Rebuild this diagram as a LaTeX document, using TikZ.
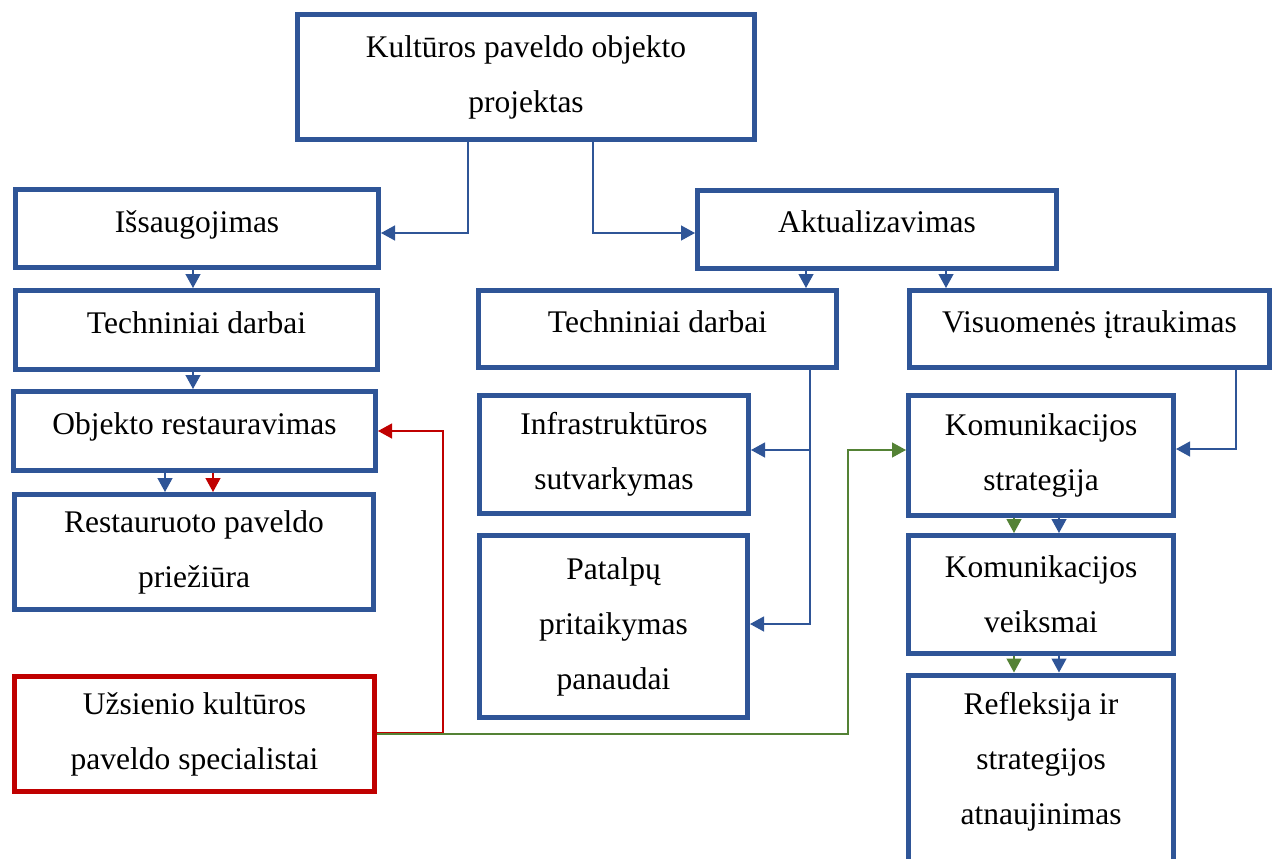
\documentclass[tikz,border=0pt]{standalone}
\usepackage{fontspec}
\setmainfont{Liberation Serif}
\usetikzlibrary{arrows.meta}
\definecolor{bblue}{RGB}{47,85,151}
\definecolor{rred}{RGB}{192,0,0}
\definecolor{ggreen}{RGB}{84,130,53}
\begin{document}
\begin{tikzpicture}[x=1pt,y=-1pt,
  box/.style={draw=bblue,line width=5pt,fill=white,inner sep=0pt,align=center,
    font=\fontsize{31.5}{55}\selectfont},
  redbox/.style={box,draw=rred},
  one/.style={text height=22pt,text depth=15pt},
  txt/.style={inner sep=0pt,align=center,font=\fontsize{31.5}{55}\selectfont},
  tip/.style={-{Triangle[length=14pt,width=15pt]}},
  conn/.style={draw=bblue,line width=1.3pt,tip},
  rconn/.style={draw=rred,line width=1.3pt,tip},
  gconn/.style={draw=ggreen,line width=1.3pt,tip}]
\useasboundingbox (0,0) rectangle (1277,859);
\clip (0,0) rectangle (1277,859);
% boxes
\node[box,minimum width=457pt,minimum height=125pt] (top) at (526,77) {Kultūros paveldo objekto\\projektas};
\node[box,one,minimum width=363pt,minimum height=78pt] (iss) at (197,228.5) {Išsaugojimas};
\node[box,one,minimum width=362pt,minimum height=79pt] (tech1) at (196.5,330) {Techniniai darbai};
\node[box,one,minimum width=362pt,minimum height=79pt] (obj) at (194.5,431) {Objekto restauravimas};
\node[box,minimum width=359pt,minimum height=115pt] (rest) at (194,552) {Restauruoto paveldo\\priežiūra};
\node[redbox,minimum width=360pt,minimum height=115pt] (usz) at (194.5,734) {Užsienio kultūros\\paveldo specialistai};
\node[box,one,minimum width=359pt,minimum height=78pt] (akt) at (877,229) {Aktualizavimas};
\node[box,one,minimum width=358pt,minimum height=77pt] (tech2) at (657.5,329) {Techniniai darbai};
\node[box,one,minimum width=360pt,minimum height=77pt] (vis) at (1089.5,329) {Visuomenės įtraukimas};
\node[box,minimum width=269pt,minimum height=118pt] (infra) at (614,454.5) {Infrastruktūros\\sutvarkymas};
\node[box,minimum width=268pt,minimum height=182pt] (pat) at (613.5,626.5) {Patalpų\\pritaikymas\\panaudai};
\node[box,minimum width=265pt,minimum height=120pt] (ks) at (1041,455.5) {Komunikacijos\\strategija};
\node[box,minimum width=265pt,minimum height=118pt] (kv) at (1041,594.5) {Komunikacijos\\veiksmai};
\node[box,minimum width=265pt,minimum height=225pt] (refl) at (1041,787.5) {};
\node[txt] (refltxt) at (1041,762) {Refleksija ir\\strategijos\\atnaujinimas};
% helper coordinates
\coordinate (c1) at (468,233);
\coordinate (c2) at (593,233);
\coordinate (a1) at (193,0);
\coordinate (b1) at (165,0);
\coordinate (b2) at (213,0);
\coordinate (d1) at (806,0);
\coordinate (d2) at (946,0);
\coordinate (v1) at (810,450);
\coordinate (v2) at (810,624);
\coordinate (w1) at (1236,449);
\coordinate (g1) at (848,450);
\coordinate (r1) at (443,431);
\coordinate (k1) at (1014,0);
\coordinate (k2) at (1059,0);
% connectors
\draw[conn] (top.south -| c1) |- (c1 -| iss.east);
\draw[conn] (top.south -| c2) |- (c2 -| akt.west);
\draw[conn] (iss.south -| a1) -- (tech1.north -| a1);
\draw[conn] (tech1.south -| a1) -- (obj.north -| a1);
\draw[conn] (obj.south -| b1) -- (rest.north -| b1);
\draw[rconn] (obj.south -| b2) -- (rest.north -| b2);
\draw[conn] (akt.south -| d1) -- (tech2.north -| d1);
\draw[conn] (akt.south -| d2) -- (vis.north -| d2);
\draw[conn] (tech2.south -| v1) |- (v1 -| infra.east);
\draw[conn] (tech2.south -| v2) |- (v2 -| pat.east);
\draw[conn] (vis.south -| w1) |- (w1 -| ks.east);
\draw[gconn] (usz.east) -| (g1) -- (g1 -| ks.west);
\draw[rconn] ([yshift=1.5pt]usz.east) -| (r1) -- (r1 -| obj.east);
\draw[gconn] (ks.south -| k1) -- (kv.north -| k1);
\draw[conn] (ks.south -| k2) -- (kv.north -| k2);
\draw[gconn] (kv.south -| k1) -- (refl.north -| k1);
\draw[conn] (kv.south -| k2) -- (refl.north -| k2);
\end{tikzpicture}
\end{document}
